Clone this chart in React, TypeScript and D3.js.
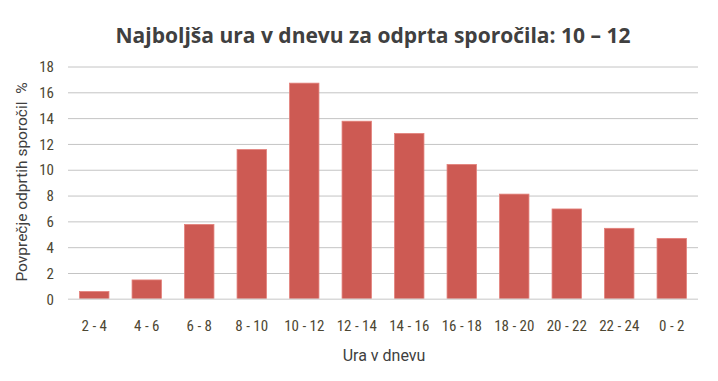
import React from "react";
import * as d3 from "d3";

const categories = ["2 - 4", "4 - 6", "6 - 8", "8 - 10", "10 - 12", "12 - 14", "14 - 16", "16 - 18", "18 - 20", "20 - 22", "22 - 24", "0 - 2"];
const values = [0.6, 1.5, 5.8, 11.6, 16.75, 13.8, 12.85, 10.45, 8.15, 7.0, 5.5, 4.72];
const yTicks = [0, 2, 4, 6, 8, 10, 12, 14, 16, 18];
const title = "Najboljša ura v dnevu za odprta sporočila: 10 – 12";
const xTitle = "Ura v dnevu";
const yTitle = "Povprečje odprtih sporočil  %";

const W = 718;
const H = 381;
const left = 68;
const right = 698;
const top = 67;
const bottom = 299.3;

export default function App() {
  const x = d3.scaleBand<string>().domain(categories).range([left, right]).paddingInner(0.44).paddingOuter(0.22);
  const y = d3.scaleLinear().domain([0, 18]).range([bottom, top]);
  const tickFont = "'Liberation Sans Narrow', 'Roboto Condensed', 'Liberation Sans', sans-serif";
  return (
    <svg width={W} height={H} style={{ position: "absolute", left: 0, top: 0, background: "#fff" }}>
      <text x={373} y={43} textAnchor="middle" fontFamily="'Open Sans', sans-serif" fontWeight={700} fontSize={22} fill="#404040" textLength={515} lengthAdjust="spacingAndGlyphs">{title}</text>
      {yTicks.map((t) => (
        <g key={t}>
          {t > 0 && <line x1={left} x2={right} y1={y(t)} y2={y(t)} stroke="#c4c4c4" strokeWidth={1} />}
          <text x={54} y={y(t)} dy="0.35em" textAnchor="end" fontFamily={tickFont} fontSize={15} fill="#4d4733">{t}</text>
        </g>
      ))}
      {categories.map((c, i) => (
        <rect key={c} x={x(c)} y={y(values[i])} width={x.bandwidth()} height={bottom - y(values[i])} fill="#cd5a53" stroke="#e3807a" strokeWidth={0.8} />
      ))}
      <line x1={left} x2={right} y1={bottom} y2={bottom} stroke="#d9d9d9" strokeWidth={1.5} />
      {categories.map((c) => (
        <text key={c} x={(x(c) as number) + x.bandwidth() / 2} y={331} textAnchor="middle" fontFamily={tickFont} fontSize={15} fill="#4d4733">{c}</text>
      ))}
      <text x={384} y={361} textAnchor="middle" fontFamily="Roboto, sans-serif" fontSize={16} fill="#404040">{xTitle}</text>
      <text transform={`translate(27,182) rotate(-90)`} textAnchor="middle" fontFamily="Roboto, sans-serif" fontSize={15.5} fill="#404040" style={{ whiteSpace: "pre" }}>{yTitle}</text>
    </svg>
  );
}
